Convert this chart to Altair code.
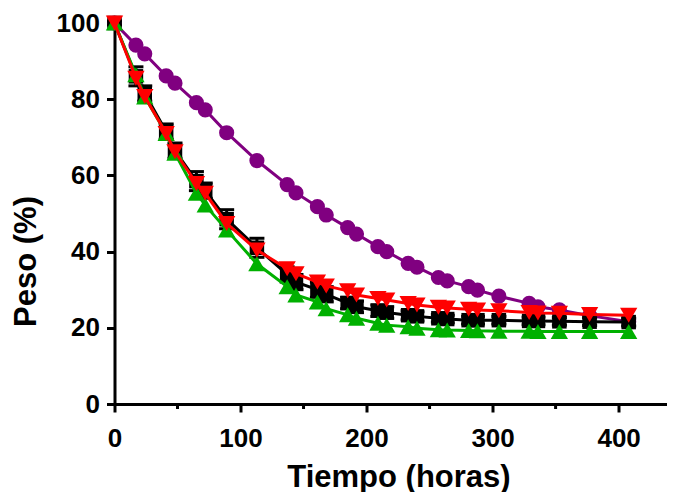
import altair as alt
import pandas as pd

# ---- data ----
time_h = [0, 17, 24, 41, 48, 65, 72, 89, 113, 137, 144, 161, 168, 185, 192,
          209, 216, 233, 240, 257, 264, 281, 288, 305, 329, 336, 353, 377, 408]

purple_vals = [100, 94.2, 91.9, 86.1, 84.2, 79.1, 77.2, 71.2, 63.9, 57.6, 55.4,
               51.8, 49.6, 46.3, 44.6, 41.3, 40.0, 36.9, 35.9, 33.2, 32.3, 30.8,
               29.9, 28.3, 26.4, 25.5, 24.7, 23.2, 21.6]

black_vals = [100, 86.0, 81.5, 71.5, 66.5, 58.5, 56.0, 48.5, 41.0, 34.0, 32.0,
              30.0, 28.8, 26.5, 25.5, 24.5, 24.0, 23.3, 23.0, 22.5, 22.3, 22.0,
              22.0, 22.0, 21.8, 21.8, 21.7, 21.6, 21.5]
black_err = [0.5, 2.5, 2.0, 2.0, 2.0, 2.5, 2.0, 2.5, 2.5, 2.0, 2.0, 2.0, 2.0,
             1.5, 1.5, 1.5, 1.5, 1.2, 1.2, 1.0, 1.0, 1.0, 1.0, 1.0, 1.0, 1.0,
             1.0, 1.0, 1.0]

green_vals = [100, 86.4, 80.6, 71.0, 65.8, 55.3, 52.2, 45.7, 36.8, 30.8, 28.6,
              26.8, 25.0, 23.4, 22.5, 21.2, 20.7, 20.3, 19.9, 19.5, 19.4, 19.3,
              19.2, 19.1, 19.1, 19.0, 19.0, 19.0, 19.0]

red_vals = [100, 85.5, 80.7, 71.0, 66.2, 57.9, 55.3, 47.4, 40.4, 35.5, 34.2,
            32.0, 31.0, 29.7, 28.6, 27.7, 27.3, 26.4, 26.0, 25.4, 25.2, 24.9,
            24.7, 24.5, 24.0, 23.9, 23.8, 23.5, 23.3]

x_ticks = [0, 100, 200, 300, 400]
x_minor = [50, 150, 250, 350]
y_ticks = [0, 20, 40, 60, 80, 100]

# ---- layout ----
W = 552.5
H = 381
FONT = "Liberation Sans"

xscale = alt.Scale(domain=[0, 438.4], nice=False, zero=False)
yscale = alt.Scale(domain=[0, 100], nice=False, zero=False)

x_axis = alt.Axis(values=x_ticks, title="Tiempo (horas)", grid=False,
                  labelFont=FONT, labelFontSize=26, labelFontWeight="bold",
                  labelColor="black", labelBaseline="alphabetic", labelPadding=34,
                  labelFlush=False, labelOverlap=False,
                  tickSize=8, tickWidth=3, tickColor="black",
                  domainWidth=3, domainColor="black",
                  titleFont=FONT, titleFontSize=31, titleFontWeight="bold",
                  titleColor="black", titleBaseline="alphabetic",
                  titleAlign="center", titleX=284, titleY=82)
y_axis = alt.Axis(values=y_ticks, title="Peso (%)", grid=False,
                  labelFont=FONT, labelFontSize=26, labelFontWeight="bold",
                  labelColor="black", labelPadding=7, labelFlush=False,
                  labelOverlap=False,
                  tickSize=8, tickWidth=3, tickColor="black",
                  domainWidth=3, domainColor="black",
                  titleFont=FONT, titleFontSize=31, titleFontWeight="bold",
                  titleColor="black", titleBaseline="alphabetic",
                  titleAlign="center", titleAngle=270, titleX=-79, titleY=238)


def X(field):
    return alt.X(field, type="quantitative", scale=xscale, axis=x_axis)


def Y(field):
    return alt.Y(field, type="quantitative", scale=yscale, axis=y_axis)


def frame(vals, err=None):
    d = pd.DataFrame({"t": time_h, "v": vals})
    if err is not None:
        d["lo"] = [v - e for v, e in zip(vals, err)]
        d["hi"] = [v + e for v, e in zip(vals, err)]
    return d


def series(vals, color, shape, size):
    base = alt.Chart(frame(vals)).encode(x=X("t"), y=Y("v"))
    line = base.mark_line(color=color, strokeWidth=3)
    pts = base.mark_point(shape=shape, size=size, filled=True, color=color, opacity=1)
    return line + pts


minor = alt.Chart(pd.DataFrame({"t": x_minor})).mark_rule(color="black", strokeWidth=3).encode(
    x=X("t"),
    y=alt.value(H),
    y2=alt.value(H + 5),
)

bdf = frame(black_vals, black_err)
black_bars = alt.Chart(bdf).mark_rule(color="black", strokeWidth=3).encode(
    x=X("t"), y=Y("lo"), y2="hi:Q",
)
black_cap_hi = alt.Chart(bdf).mark_tick(color="black", thickness=3, size=15,
                                        orient="horizontal", opacity=1).encode(
    x=X("t"), y=Y("hi"),
)
black_cap_lo = alt.Chart(bdf).mark_tick(color="black", thickness=3, size=15,
                                        orient="horizontal", opacity=1).encode(
    x=X("t"), y=Y("lo"),
)

chart = alt.layer(
    minor,
    series(purple_vals, "#800080", "circle", 230),
    black_bars, black_cap_hi, black_cap_lo,
    series(black_vals, "#000000", "square", 210),
    series(green_vals, "#00B000", "triangle-up", 300),
    series(red_vals, "#FF0000", "triangle-down", 300),
).properties(
    width=W, height=H,
    padding={"left": 106.5, "top": 15, "right": 0, "bottom": 88},
    autosize=alt.AutoSizeParams(type="none"),
    background="white",
).configure_view(stroke=None)

chart.save("out.html", embed_options={"renderer": "svg", "actions": False})
